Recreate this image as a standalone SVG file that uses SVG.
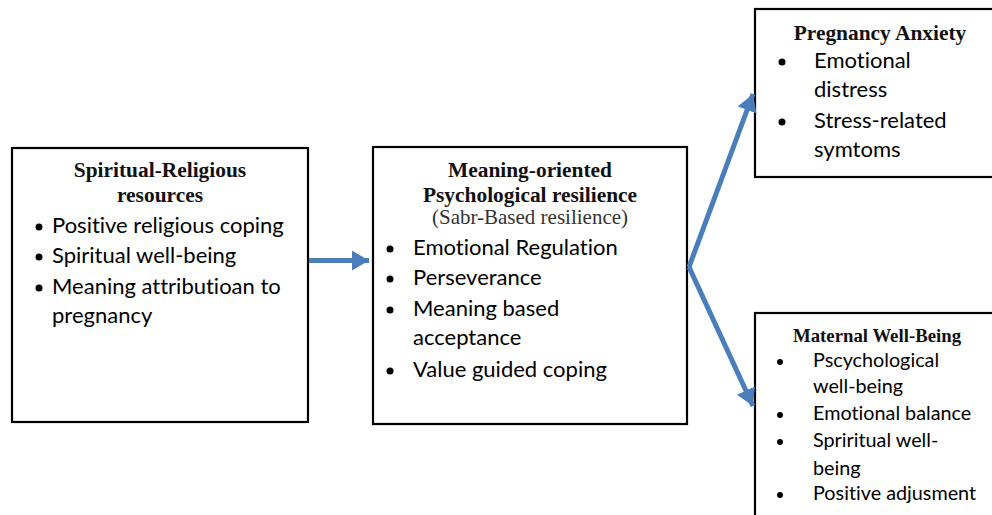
<svg xmlns="http://www.w3.org/2000/svg" width="992" height="515" viewBox="0 0 992 515">
<defs>
<style>
.box{fill:#fff;stroke:#000;stroke-width:2.2}
.t{font-family:"Liberation Serif","Times New Roman",serif;font-weight:bold;fill:#111;text-anchor:middle}
.s{font-family:"Liberation Serif","Times New Roman",serif;fill:#333;text-anchor:middle}
.b{font-family:Lato,"Open Sans",sans-serif;fill:#000;font-variant-ligatures:none}
.c{stroke:#4a7ebb;stroke-width:5;fill:none}
</style>
<marker id="ah" markerWidth="4" markerHeight="4" refX="3.4" refY="2" orient="auto" markerUnits="strokeWidth">
<path d="M0,0 L3.4,2 L0,4 z" fill="#4a7ebb"/>
</marker>
</defs>
<rect width="992" height="515" fill="#fff"/>
<g id="spiritual">
<rect class="box" x="12" y="148" width="296" height="274"/>
<text class="t" x="160" y="177" font-size="21.4">Spiritual-Religious</text>
<text class="t" x="160" y="202" font-size="21.4">resources</text>
<g class="b" font-size="22">
<circle cx="39" cy="227" r="3.5"/><text x="52" y="233">Positive religious coping</text>
<circle cx="39" cy="257" r="3.5"/><text x="52" y="263">Spiritual well-being</text>
<circle cx="39" cy="288" r="3.5"/><text x="52" y="294">Meaning attributioan to</text>
<text x="52" y="323">pregnancy</text>
</g>
</g>
<g id="resilience">
<rect class="box" x="373" y="147" width="314" height="277"/>
<text class="t" x="530" y="177" font-size="21.4">Meaning-oriented</text>
<text class="t" x="530" y="202" font-size="21.4">Psychological resilience</text>
<text class="s" x="530" y="224" font-size="21">(Sabr-Based resilience)</text>
<g class="b" font-size="22">
<circle cx="390" cy="249" r="3.5"/><text x="413" y="255">Emotional Regulation</text>
<circle cx="390" cy="279" r="3.5"/><text x="413" y="285">Perseverance</text>
<circle cx="390" cy="310" r="3.5"/><text x="413" y="316">Meaning based</text>
<text x="413" y="345">acceptance</text>
<circle cx="390" cy="371" r="3.5"/><text x="413" y="377">Value guided coping</text>
</g>
</g>
<g id="anxiety">
<rect class="box" x="755" y="9" width="260" height="168"/>
<text class="t" x="880" y="40" font-size="21.4">Pregnancy Anxiety</text>
<g class="b" font-size="22">
<circle cx="782" cy="62" r="3.5"/><text x="814" y="68">Emotional</text>
<text x="814" y="97">distress</text>
<circle cx="782" cy="122" r="3.5"/><text x="814" y="128">Stress-related</text>
<text x="814" y="157">symtoms</text>
</g>
</g>
<g id="wellbeing">
<rect class="box" x="755" y="313" width="260" height="230"/>
<text class="t" x="877" y="342" font-size="18.8">Maternal Well-Being</text>
<g class="b" font-size="19.8">
<circle cx="780" cy="362" r="3"/><text x="813" y="367">Pscychological</text>
<text x="813" y="393">well-being</text>
<circle cx="780" cy="415" r="3"/><text x="813" y="420">Emotional balance</text>
<circle cx="780" cy="442" r="3"/><text x="813" y="447">Spriritual well-</text>
<text x="813" y="475">being</text>
<circle cx="780" cy="495" r="3"/><text x="813" y="500">Positive adjusment</text>
</g>
</g>
<g id="connectors">
<line class="c" x1="309" y1="260.5" x2="369" y2="260.5" marker-end="url(#ah)"/>
<line class="c" x1="689" y1="267" x2="753" y2="94" marker-end="url(#ah)"/>
<line class="c" x1="689" y1="267" x2="753" y2="406" marker-end="url(#ah)"/>
</g>
</svg>
